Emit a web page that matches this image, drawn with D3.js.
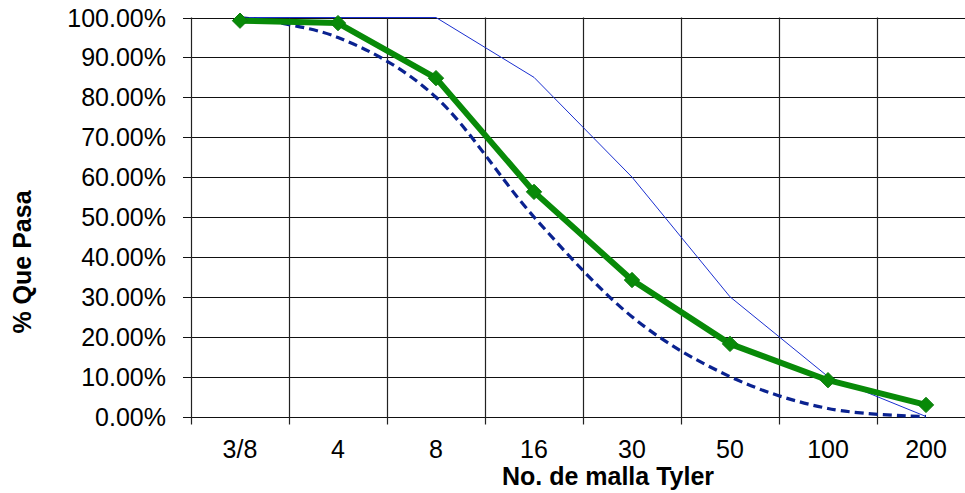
<!DOCTYPE html>
<html>
<head>
<meta charset="utf-8">
<script src="https://cdn.jsdelivr.net/npm/d3@7"></script>
<style>
  body { margin: 0; background: #fff; overflow: hidden; }
  text { font-family: "Liberation Sans", Arial, sans-serif; }
</style>
</head>
<body>
<div class="chart"></div>
<script>
// mesh sizes (Tyler)
var mallas = ["3/8", "4", "8", "16", "30", "50", "100", "200"];
// % que pasa, muestra
var pasaMuestra = [99.2, 98.6, 84.8, 56.3, 34.2, 18.2, 9.1, 2.9];
// limite inferior (dashed)
var limInferior = [100, 95, 80, 50, 25, 10, 2, 0];
// limite superior (thin)
var limSuperior = [100, 100, 100, 85, 60, 30, 10, 0];
var yTicks = [0, 10, 20, 30, 40, 50, 60, 70, 80, 90, 100];

var width = 965, height = 493;
var margin = {left: 191, top: 17.5, right: -10, bottom: 76.5};

const svg = d3.select(".chart").append("svg")
  .attr("width", width)
  .attr("height", height);

var x = d3.scaleBand()
  .domain(mallas)
  .range([margin.left, width - margin.right]);

var y = d3.scaleLinear()
  .domain([0, 100])
  .range([height - margin.bottom, margin.top]);

// grid - horizontal
svg.selectAll("line.hgrid")
  .data(yTicks)
  .enter().append("line")
    .attr("class", "hgrid")
    .attr("x1", margin.left - 8)
    .attr("x2", width - margin.right)
    .attr("y1", function(d){ return Math.round(y(d)) + 0.5; })
    .attr("y2", function(d){ return Math.round(y(d)) + 0.5; })
    .attr("stroke", "#111")
    .attr("stroke-width", 1.2);

// grid - vertical (band boundaries)
svg.selectAll("line.vgrid")
  .data(mallas)
  .enter().append("line")
    .attr("class", "vgrid")
    .attr("x1", function(d){ return Math.round(x(d)) + 0.5; })
    .attr("x2", function(d){ return Math.round(x(d)) + 0.5; })
    .attr("y1", y(100))
    .attr("y2", y(0) + 8)
    .attr("stroke", "#222")
    .attr("stroke-width", 1.2);

// y labels
svg.selectAll("text.ylab")
  .data(yTicks)
  .enter().append("text")
    .attr("class", "ylab")
    .attr("x", 166)
    .attr("y", function(d){ return y(d); })
    .attr("dy", "0.36em")
    .attr("text-anchor", "end")
    .attr("font-size", 25)
    .attr("fill", "#000")
    .text(function(d){ return d3.format(".2f")(d) + "%"; });

// x labels
svg.selectAll("text.xlab")
  .data(mallas)
  .enter().append("text")
    .attr("class", "xlab")
    .attr("x", function(d){ return x(d) + x.bandwidth() / 2; })
    .attr("y", 458)
    .attr("text-anchor", "middle")
    .attr("font-size", 25)
    .attr("fill", "#000")
    .text(function(d){ return d; });

// axis titles
svg.append("text")
  .attr("x", 608)
  .attr("y", 485)
  .attr("text-anchor", "middle")
  .attr("font-size", 25)
  .attr("font-weight", "bold")
  .text("No. de malla Tyler");

svg.append("text")
  .attr("transform", "translate(31,262) rotate(-90)")
  .attr("text-anchor", "middle")
  .attr("font-size", 25)
  .attr("font-weight", "bold")
  .text("% Que Pasa");

var cx = function(d, i){ return x(mallas[i]) + x.bandwidth() / 2; };

// upper limit - thin straight
var lineStraight = d3.line()
  .x(cx)
  .y(function(d){ return y(d); });

svg.append("path")
  .attr("fill", "none")
  .attr("stroke", "#1a2fd0")
  .attr("stroke-width", 1)
  .attr("d", lineStraight(limSuperior));

// lower limit - dashed smooth
var lineSmooth = d3.line()
  .x(cx)
  .y(function(d){ return y(d); })
  .curve(d3.curveCatmullRom.alpha(0));

svg.append("path")
  .attr("fill", "none")
  .attr("stroke", "#0a2290")
  .attr("stroke-width", 3.2)
  .attr("stroke-dasharray", "9,5")
  .attr("d", lineSmooth(limInferior));

// sample - thick green
svg.append("path")
  .attr("fill", "none")
  .attr("stroke", "#088a08")
  .attr("stroke-width", 6)
  .attr("stroke-linejoin", "round")
  .attr("d", lineStraight(pasaMuestra));

svg.selectAll("path.marker")
  .data(pasaMuestra)
  .enter().append("path")
    .attr("class", "marker")
    .attr("d", d3.symbol().type(d3.symbolDiamond2).size(150))
    .attr("transform", function(d, i){ return "translate(" + cx(d, i) + "," + y(d) + ")"; })
    .attr("fill", "#088a08")
    .attr("stroke", "#0a7a0a")
    .attr("stroke-width", 1);
</script>
</body>
</html>
